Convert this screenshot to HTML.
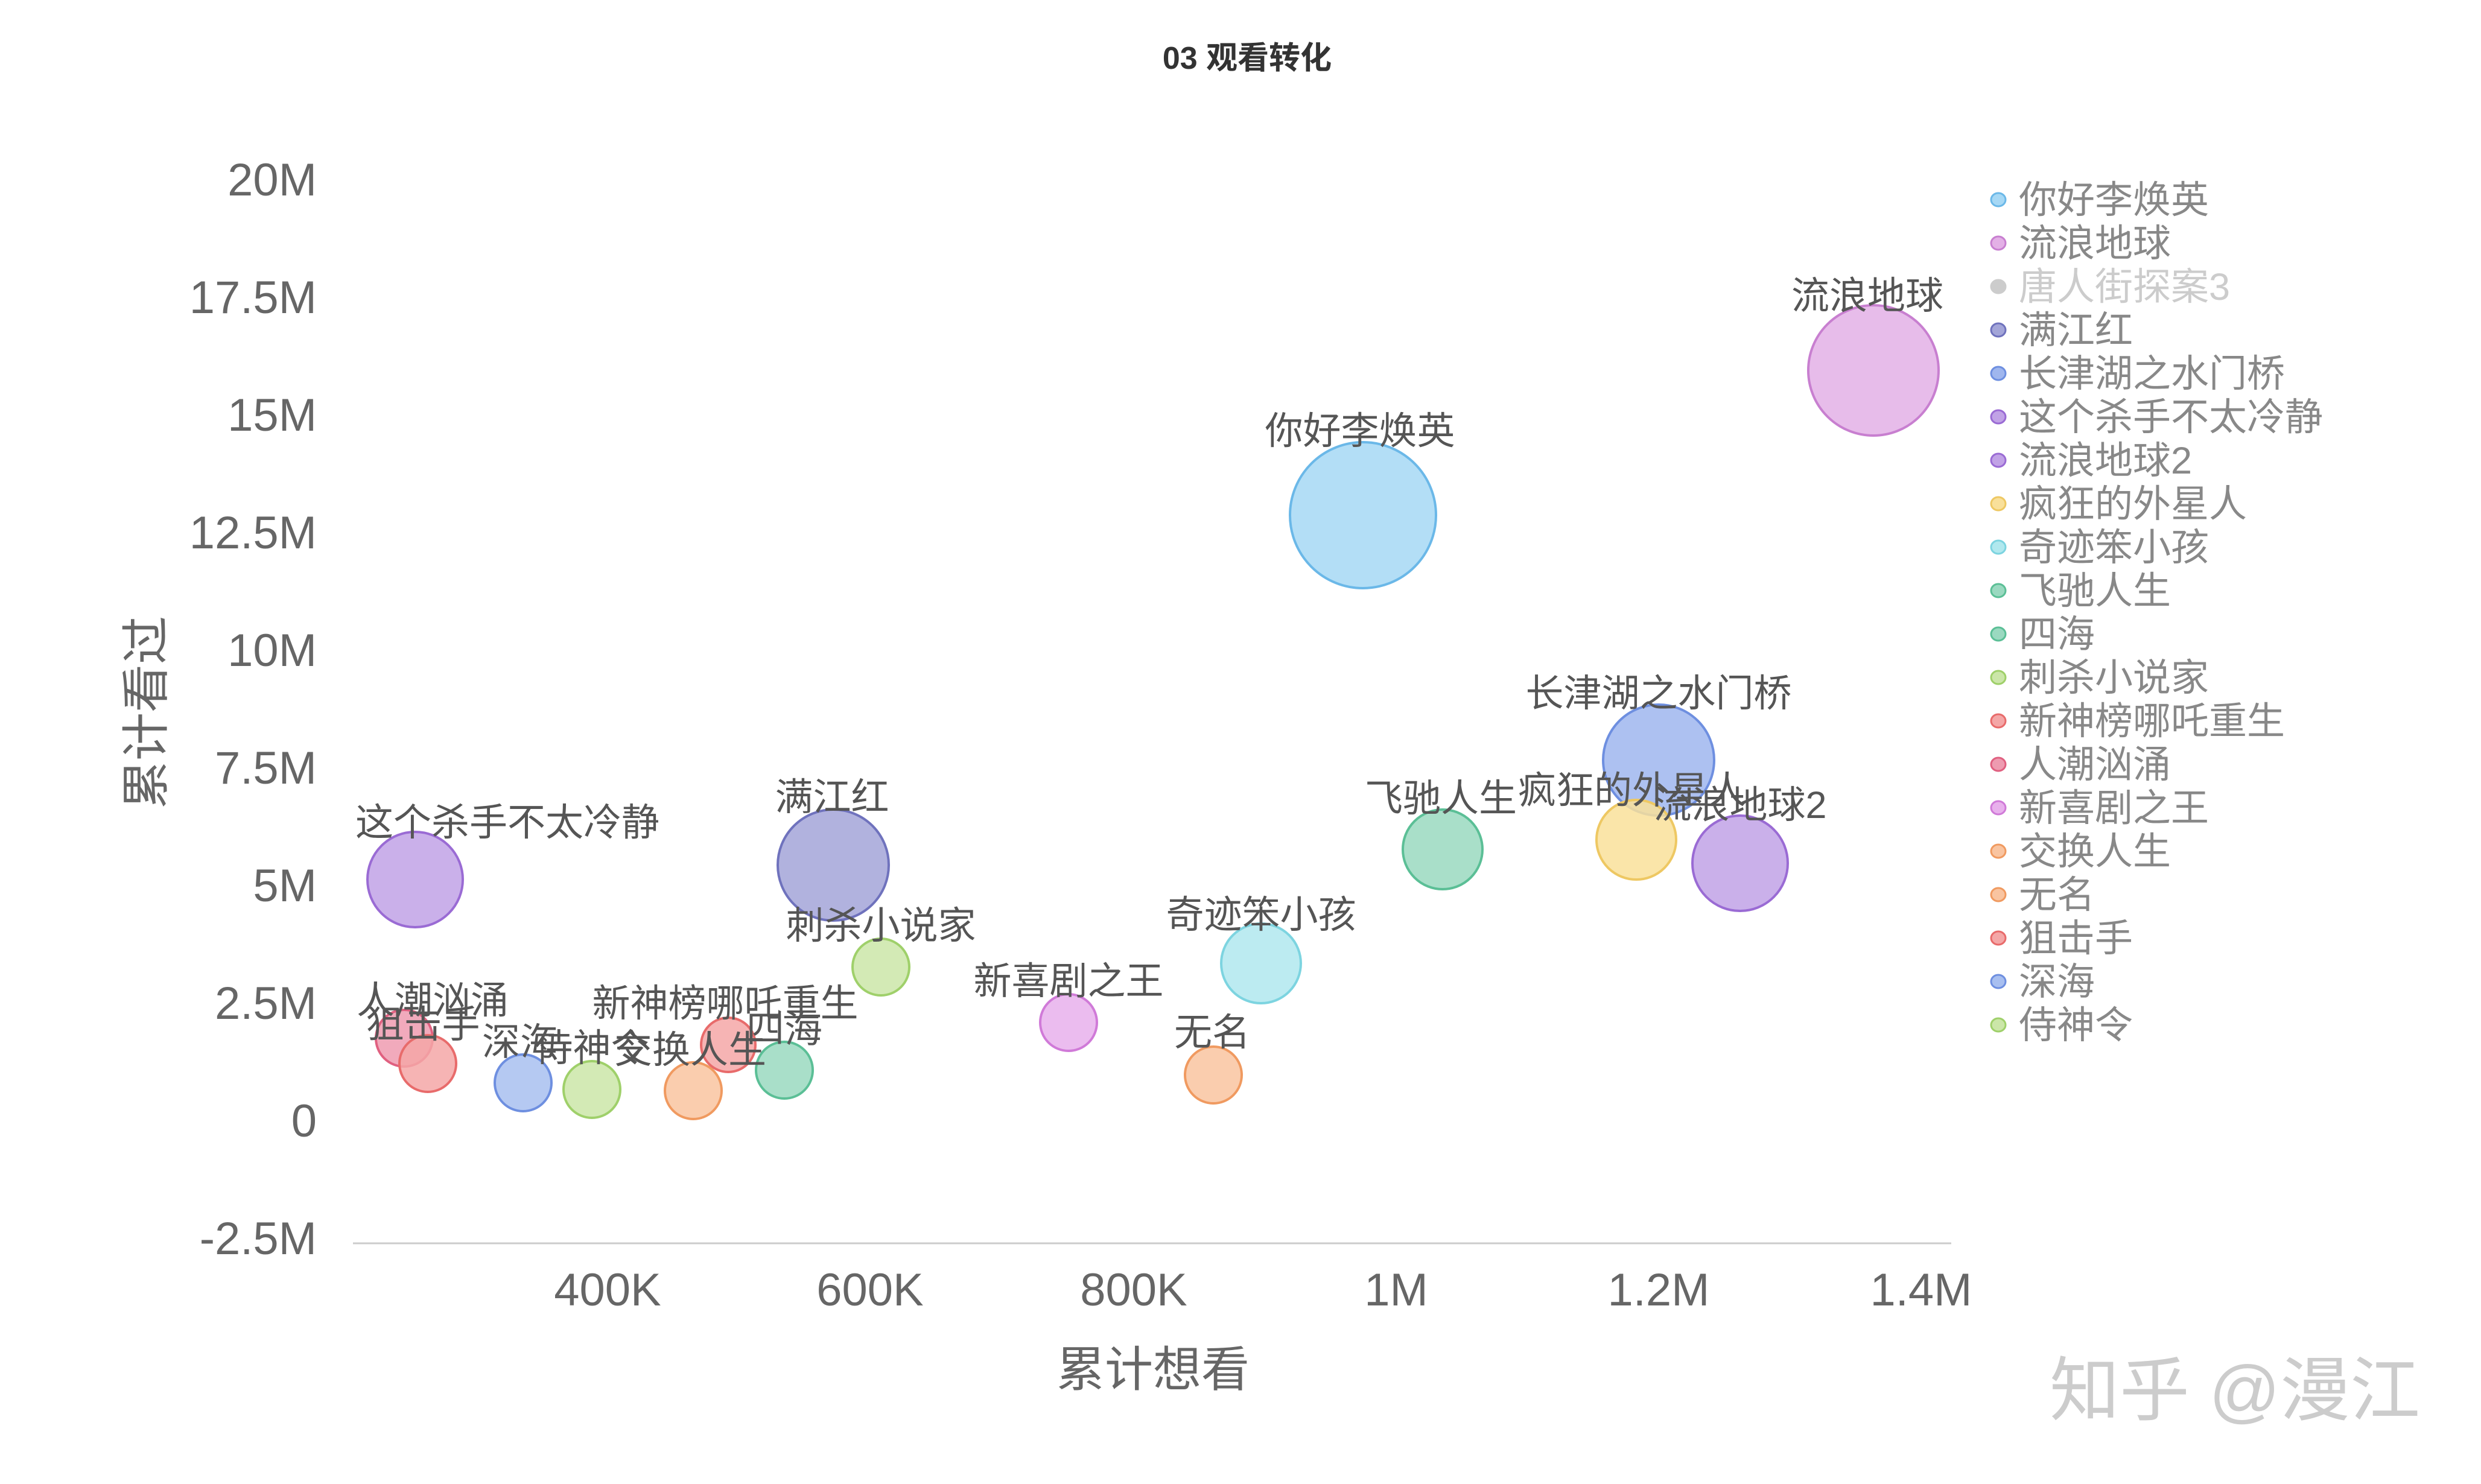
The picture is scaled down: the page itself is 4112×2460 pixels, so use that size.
<!DOCTYPE html>
<html><head><meta charset="utf-8"><style>
html,body{margin:0;padding:0;background:#fff;}
svg{display:block;font-family:"Liberation Sans","Noto Sans CJK SC",sans-serif;}
</style></head><body>
<svg width="4112" height="2460" viewBox="0 0 4112 2460" xmlns="http://www.w3.org/2000/svg">
<rect width="4112" height="2460" fill="#fff"/>
<text x="2067" y="114" text-anchor="middle" font-size="52" font-weight="bold" fill="#333">03 观看转化</text>
<g font-size="76" fill="#666" text-anchor="end">
<text x="525" y="324">20M</text>
<text x="525" y="519">17.5M</text>
<text x="525" y="714">15M</text>
<text x="525" y="909">12.5M</text>
<text x="525" y="1104">10M</text>
<text x="525" y="1299">7.5M</text>
<text x="525" y="1494">5M</text>
<text x="525" y="1689">2.5M</text>
<text x="525" y="1884">0</text>
<text x="525" y="2079">-2.5M</text>
</g>
<line x1="585" y1="2061" x2="3234" y2="2061" stroke="#ccc" stroke-width="3"/>
<g font-size="76" fill="#666" text-anchor="middle">
<text x="1007" y="2164">400K</text>
<text x="1442" y="2164">600K</text>
<text x="1879" y="2164">800K</text>
<text x="2314" y="2164">1M</text>
<text x="2749" y="2164">1.2M</text>
<text x="3184" y="2164">1.4M</text>
</g>
<text x="1911" y="2298" text-anchor="middle" font-size="80" fill="#666">累计想看</text>
<text transform="translate(270,1181) rotate(-90)" text-anchor="middle" font-size="80" fill="#666">累计看过</text>
<g stroke-width="4" fill-opacity="0.85">
<circle cx="2259" cy="854" r="121" fill="#a6d8f5" stroke="#6bb8e8"/>
<circle cx="3105" cy="614" r="108" fill="#e3b0e6" stroke="#c87fd0"/>
<circle cx="2749" cy="1260" r="92" fill="#9fb6ee" stroke="#6e8fe0"/>
<circle cx="2712" cy="1392" r="66" fill="#f9e09a" stroke="#eec863"/>
<circle cx="2884" cy="1431" r="79" fill="#c1a2e6" stroke="#9a6bd4"/>
<circle cx="2391" cy="1408" r="66" fill="#9ad9c0" stroke="#5bbf96"/>
<circle cx="2090" cy="1597" r="66" fill="#b0e8ee" stroke="#7dd4e0"/>
<circle cx="1381" cy="1434" r="92" fill="#a3a5d8" stroke="#6f72bd"/>
<circle cx="688" cy="1458" r="79" fill="#c1a2e6" stroke="#9a6bd4"/>
<circle cx="1460" cy="1603" r="47" fill="#cbe6a8" stroke="#9fd06a"/>
<circle cx="1771" cy="1695" r="47" fill="#e8b0ec" stroke="#d07ad8"/>
<circle cx="2011" cy="1782" r="47" fill="#f9c4a0" stroke="#f09a60"/>
<circle cx="1300" cy="1774" r="47" fill="#9ad9c0" stroke="#5bbf96"/>
<circle cx="1207" cy="1732" r="45" fill="#f4a7a7" stroke="#e86b6b"/>
<circle cx="1149" cy="1808" r="47" fill="#f9c4a0" stroke="#f09a60"/>
<circle cx="981" cy="1806" r="47" fill="#cbe6a8" stroke="#9fd06a"/>
<circle cx="867" cy="1795" r="47" fill="#a8bff0" stroke="#6e8fe0"/>
<circle cx="670" cy="1721" r="47" fill="#ee9bb0" stroke="#e06080"/>
<circle cx="709" cy="1763" r="47" fill="#f4a7a7" stroke="#e86b6b"/>
</g>
<g font-size="63" fill="#555" text-anchor="middle">
<text x="3095" y="512">流浪地球</text>
<text x="2254" y="736">你好李焕英</text>
<text x="2749" y="1171">长津湖之水门桥</text>
<text x="2388" y="1345">飞驰人生</text>
<text x="2705" y="1332">疯狂的外星人</text>
<text x="2884" y="1356">流浪地球2</text>
<text x="2090" y="1538">奇迹笨小孩</text>
<text x="1379" y="1343">满江红</text>
<text x="841" y="1385">这个杀手不太冷静</text>
<text x="1460" y="1556">刺杀小说家</text>
<text x="1771" y="1648">新喜剧之王</text>
<text x="2009" y="1733">无名</text>
<text x="1202" y="1685">新神榜哪吒重生</text>
<text x="1300" y="1728">四海</text>
<text x="1144" y="1762">交换人生</text>
<text x="981" y="1759">侍神令</text>
<text x="862" y="1749">深海</text>
<text x="717" y="1680">人潮汹涌</text>
<text x="701" y="1720">狙击手</text>
</g>
<g font-size="63" fill="#888">
<g stroke-width="3">
<ellipse cx="3312" cy="331" rx="12" ry="11" fill="#a6d8f5" stroke="#6bb8e8"/>
<ellipse cx="3312" cy="403" rx="12" ry="11" fill="#e3b0e6" stroke="#c87fd0"/>
<ellipse cx="3312" cy="475" rx="12" ry="11" fill="#ccc" stroke="#ccc"/>
<ellipse cx="3312" cy="547" rx="12" ry="11" fill="#a3a5d8" stroke="#6f72bd"/>
<ellipse cx="3312" cy="619" rx="12" ry="11" fill="#9fb6ee" stroke="#6e8fe0"/>
<ellipse cx="3312" cy="691" rx="12" ry="11" fill="#c1a2e6" stroke="#9a6bd4"/>
<ellipse cx="3312" cy="763" rx="12" ry="11" fill="#c1a2e6" stroke="#9a6bd4"/>
<ellipse cx="3312" cy="835" rx="12" ry="11" fill="#f9e09a" stroke="#eec863"/>
<ellipse cx="3312" cy="907" rx="12" ry="11" fill="#b0e8ee" stroke="#7dd4e0"/>
<ellipse cx="3312" cy="979" rx="12" ry="11" fill="#9ad9c0" stroke="#5bbf96"/>
<ellipse cx="3312" cy="1051" rx="12" ry="11" fill="#9ad9c0" stroke="#5bbf96"/>
<ellipse cx="3312" cy="1123" rx="12" ry="11" fill="#cbe6a8" stroke="#9fd06a"/>
<ellipse cx="3312" cy="1195" rx="12" ry="11" fill="#f4a7a7" stroke="#e86b6b"/>
<ellipse cx="3312" cy="1267" rx="12" ry="11" fill="#ee9bb0" stroke="#e06080"/>
<ellipse cx="3312" cy="1339" rx="12" ry="11" fill="#e8b0ec" stroke="#d07ad8"/>
<ellipse cx="3312" cy="1411" rx="12" ry="11" fill="#f9c4a0" stroke="#f09a60"/>
<ellipse cx="3312" cy="1483" rx="12" ry="11" fill="#f9c4a0" stroke="#f09a60"/>
<ellipse cx="3312" cy="1555" rx="12" ry="11" fill="#f4a7a7" stroke="#e86b6b"/>
<ellipse cx="3312" cy="1627" rx="12" ry="11" fill="#a8bff0" stroke="#6e8fe0"/>
<ellipse cx="3312" cy="1699" rx="12" ry="11" fill="#cbe6a8" stroke="#9fd06a"/>
</g>
<text x="3346" y="353">你好李焕英</text>
<text x="3346" y="425">流浪地球</text>
<text x="3346" y="497" fill="#ccc">唐人街探案3</text>
<text x="3346" y="569">满江红</text>
<text x="3346" y="641">长津湖之水门桥</text>
<text x="3346" y="713">这个杀手不太冷静</text>
<text x="3346" y="785">流浪地球2</text>
<text x="3346" y="857">疯狂的外星人</text>
<text x="3346" y="929">奇迹笨小孩</text>
<text x="3346" y="1001">飞驰人生</text>
<text x="3346" y="1073">四海</text>
<text x="3346" y="1145">刺杀小说家</text>
<text x="3346" y="1217">新神榜哪吒重生</text>
<text x="3346" y="1289">人潮汹涌</text>
<text x="3346" y="1361">新喜剧之王</text>
<text x="3346" y="1433">交换人生</text>
<text x="3346" y="1505">无名</text>
<text x="3346" y="1577">狙击手</text>
<text x="3346" y="1649">深海</text>
<text x="3346" y="1721">侍神令</text>
</g>
<text x="3704" y="2345" text-anchor="middle" font-size="116" fill="#ccc">知乎 @漫江</text>
</svg>
</body></html>
